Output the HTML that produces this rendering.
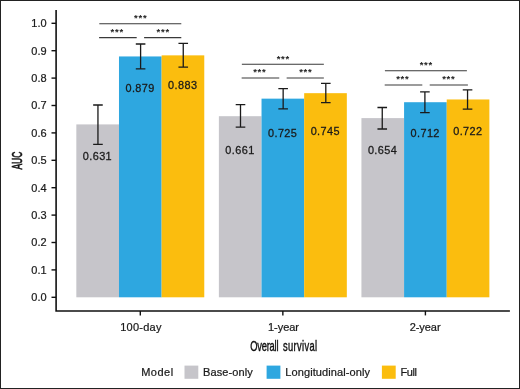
<!DOCTYPE html>
<html><head><meta charset="utf-8"><title>AUC chart</title>
<style>
html,body{margin:0;padding:0;background:#fff;}
body{width:520px;height:389px;overflow:hidden;}
svg{display:block;will-change:transform;}
text{font-family:"Liberation Sans",Arial,Helvetica,sans-serif;fill:#1a1a1a;stroke:#1a1a1a;stroke-width:0.22px;}
.t{font-size:11px;letter-spacing:0.3px;}
.v{font-size:10.9px;letter-spacing:0.4px;text-anchor:middle;stroke-width:0.28px;}
.s{font-size:9.5px;font-weight:bold;letter-spacing:0.7px;text-anchor:middle;fill:#222;stroke:none;}
.c{font-size:13.3px;text-anchor:middle;fill:#111;stroke:#111;stroke-width:0.4px;}
</style></head><body>
<svg width="520" height="389" viewBox="0 0 520 389">
<rect x="0" y="0" width="520" height="389" fill="#fff"/>

<rect x="76.33" y="124.41" width="42.65" height="172.89" fill="#c6c5ca"/>
<rect x="118.98" y="56.45" width="42.65" height="240.85" fill="#2ea7e0"/>
<rect x="161.62" y="55.36" width="42.65" height="241.94" fill="#fbbd0e"/>
<rect x="218.88" y="116.19" width="42.65" height="181.11" fill="#c6c5ca"/>
<rect x="261.53" y="98.65" width="42.65" height="198.65" fill="#2ea7e0"/>
<rect x="304.18" y="93.17" width="42.65" height="204.13" fill="#fbbd0e"/>
<rect x="361.43" y="118.10" width="42.65" height="179.20" fill="#c6c5ca"/>
<rect x="404.08" y="102.21" width="42.65" height="195.09" fill="#2ea7e0"/>
<rect x="446.73" y="99.47" width="42.65" height="197.83" fill="#fbbd0e"/>
<path d="M93.15 105.00H102.75M93.15 144.40H102.75M97.95 105.00V144.40" stroke="#1a1a1a" stroke-width="1.3" fill="none"/>
<path d="M135.80 44.00H145.40M135.80 68.80H145.40M140.60 44.00V68.80" stroke="#1a1a1a" stroke-width="1.3" fill="none"/>
<path d="M178.45 43.40H188.05M178.45 67.20H188.05M183.25 43.40V67.20" stroke="#1a1a1a" stroke-width="1.3" fill="none"/>
<path d="M235.70 104.70H245.30M235.70 127.10H245.30M240.50 104.70V127.10" stroke="#1a1a1a" stroke-width="1.3" fill="none"/>
<path d="M278.35 88.60H287.95M278.35 108.80H287.95M283.15 88.60V108.80" stroke="#1a1a1a" stroke-width="1.3" fill="none"/>
<path d="M321.00 83.40H330.60M321.00 102.60H330.60M325.80 83.40V102.60" stroke="#1a1a1a" stroke-width="1.3" fill="none"/>
<path d="M377.45 107.50H387.05M377.45 129.00H387.05M382.25 107.50V129.00" stroke="#1a1a1a" stroke-width="1.3" fill="none"/>
<path d="M420.10 91.80H429.70M420.10 112.60H429.70M424.90 91.80V112.60" stroke="#1a1a1a" stroke-width="1.3" fill="none"/>
<path d="M462.75 89.90H472.35M462.75 109.10H472.35M467.55 89.90V109.10" stroke="#1a1a1a" stroke-width="1.3" fill="none"/>
<text class="v" x="97.45" y="159.55">0.631</text>
<text class="v" x="140.10" y="92.15">0.879</text>
<text class="v" x="182.75" y="89.35">0.883</text>
<text class="v" x="240.00" y="153.65">0.661</text>
<text class="v" x="282.65" y="137.05">0.725</text>
<text class="v" x="325.30" y="134.95">0.745</text>
<text class="v" x="382.55" y="153.55">0.654</text>
<text class="v" x="425.20" y="137.45">0.712</text>
<text class="v" x="467.85" y="135.05">0.722</text>
<path d="M99.30 23.70H181.30M99.10 37.60H136.70M144.10 37.60H181.30" stroke="#3a3a3a" stroke-width="1.1" fill="none"/>
<text class="s" x="140.70" y="21.10">***</text>
<text class="s" x="117.20" y="35.00">***</text>
<text class="s" x="163.20" y="35.00">***</text>
<path d="M241.85 64.20H323.85M241.65 78.00H279.25M286.65 78.00H323.85" stroke="#3a3a3a" stroke-width="1.1" fill="none"/>
<text class="s" x="283.25" y="61.60">***</text>
<text class="s" x="259.75" y="75.40">***</text>
<text class="s" x="305.75" y="75.40">***</text>
<path d="M384.90 70.70H466.90M384.70 85.00H422.30M429.70 85.00H467.90" stroke="#3a3a3a" stroke-width="1.1" fill="none"/>
<text class="s" x="426.30" y="68.10">***</text>
<text class="s" x="402.80" y="82.40">***</text>
<text class="s" x="448.80" y="82.40">***</text>
<path d="M56.1 10V311H509.9" stroke="#111" stroke-width="1.6" fill="none"/>
<path d="M51.5 297.30H56" stroke="#111" stroke-width="1.4"/>
<text class="t" x="46.8" y="301.25" text-anchor="end" style="letter-spacing:0.1px">0.0</text>
<path d="M51.5 269.90H56" stroke="#111" stroke-width="1.4"/>
<text class="t" x="46.8" y="273.85" text-anchor="end" style="letter-spacing:0.1px">0.1</text>
<path d="M51.5 242.50H56" stroke="#111" stroke-width="1.4"/>
<text class="t" x="46.8" y="246.45" text-anchor="end" style="letter-spacing:0.1px">0.2</text>
<path d="M51.5 215.10H56" stroke="#111" stroke-width="1.4"/>
<text class="t" x="46.8" y="219.05" text-anchor="end" style="letter-spacing:0.1px">0.3</text>
<path d="M51.5 187.70H56" stroke="#111" stroke-width="1.4"/>
<text class="t" x="46.8" y="191.65" text-anchor="end" style="letter-spacing:0.1px">0.4</text>
<path d="M51.5 160.30H56" stroke="#111" stroke-width="1.4"/>
<text class="t" x="46.8" y="164.25" text-anchor="end" style="letter-spacing:0.1px">0.5</text>
<path d="M51.5 132.90H56" stroke="#111" stroke-width="1.4"/>
<text class="t" x="46.8" y="136.85" text-anchor="end" style="letter-spacing:0.1px">0.6</text>
<path d="M51.5 105.50H56" stroke="#111" stroke-width="1.4"/>
<text class="t" x="46.8" y="109.45" text-anchor="end" style="letter-spacing:0.1px">0.7</text>
<path d="M51.5 78.10H56" stroke="#111" stroke-width="1.4"/>
<text class="t" x="46.8" y="82.05" text-anchor="end" style="letter-spacing:0.1px">0.8</text>
<path d="M51.5 50.70H56" stroke="#111" stroke-width="1.4"/>
<text class="t" x="46.8" y="54.65" text-anchor="end" style="letter-spacing:0.1px">0.9</text>
<path d="M51.5 23.30H56" stroke="#111" stroke-width="1.4"/>
<text class="t" x="46.8" y="27.25" text-anchor="end" style="letter-spacing:0.1px">1.0</text>
<path d="M140.30 310.9V315.4" stroke="#111" stroke-width="1.4"/>
<text class="t" x="141.00" y="330.6" text-anchor="middle" style="letter-spacing:0.25px">100-day</text>
<path d="M282.85 310.9V315.4" stroke="#111" stroke-width="1.4"/>
<text class="t" x="283.45" y="330.6" text-anchor="middle" style="letter-spacing:-0.05px">1-year</text>
<path d="M425.40 310.9V315.4" stroke="#111" stroke-width="1.4"/>
<text class="t" x="425.10" y="330.6" text-anchor="middle" style="letter-spacing:-0.05px">2-year</text>
<text class="c" transform="translate(283.8,350.5) scale(0.703,1.06)" x="0" y="0" style="word-spacing:3px"><tspan style="letter-spacing:-0.3px">Overall</tspan> <tspan style="letter-spacing:0.5px">survival</tspan></text>
<text class="c" transform="translate(22.3,160.6) rotate(-90) scale(0.655,1.1)" x="0" y="0" style="font-size:13px;stroke-width:0.6px">AUC</text>
<text class="t" x="141.2" y="375.9" style="letter-spacing:0.5px">Model</text>
<rect x="184.5" y="365.6" width="13.8" height="13.2" fill="#c6c5ca"/>
<text class="t" x="203" y="375.9" style="letter-spacing:0.12px">Base-only</text>
<rect x="266.6" y="365.6" width="13.8" height="13.2" fill="#2ea7e0"/>
<text class="t" x="285.3" y="375.9" style="letter-spacing:0.1px">Longitudinal-only</text>
<rect x="381.9" y="365.6" width="13.8" height="13.2" fill="#fbbd0e"/>
<text class="t" x="400.4" y="375.9" style="letter-spacing:-0.4px">Full</text>
<rect x="0.5" y="0.5" width="519" height="388" fill="none" stroke="#222" stroke-width="1"/>
</svg></body></html>
